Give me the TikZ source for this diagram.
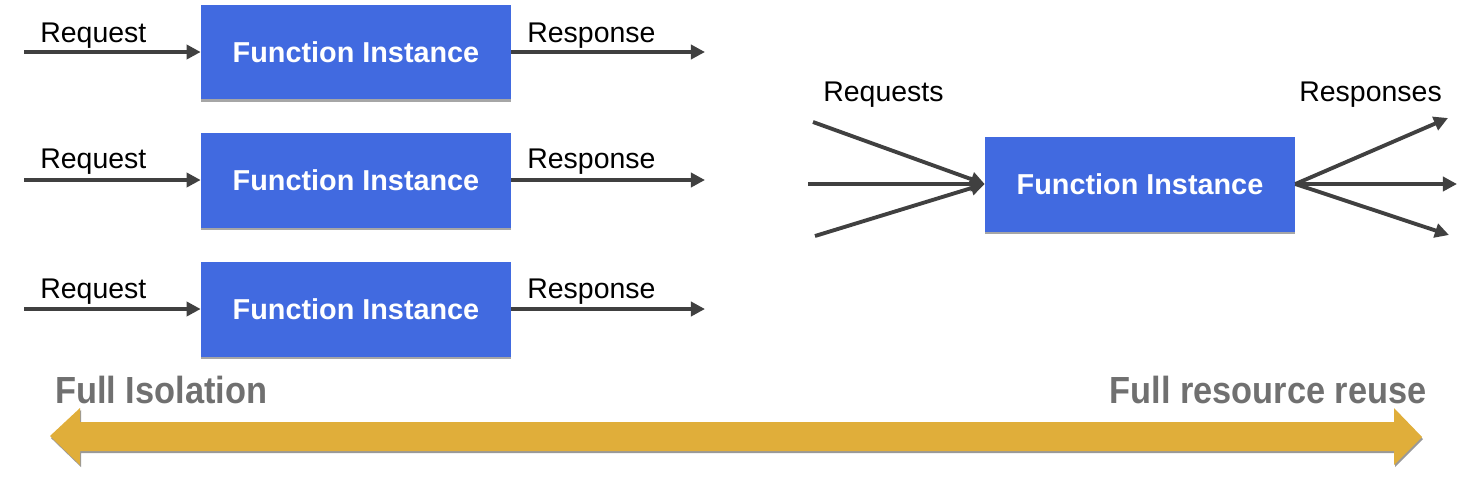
\documentclass[tikz,border=0pt]{standalone}
\usepackage{fontspec}
\setmainfont{Liberation Sans}
\usepackage{graphicx}
\usepackage{tikz}
\usetikzlibrary{arrows.meta,shadows,positioning}

\definecolor{fiblue}{RGB}{65,106,224}
\definecolor{arrowgray}{RGB}{64,64,64}
\definecolor{bargold}{RGB}{224,174,58}
\definecolor{textgray}{RGB}{112,112,112}

\tikzset{
  inst/.style={rectangle, fill=fiblue, minimum width=6.2cm, minimum height=1.9cm,
    inner sep=0pt, text=white, font=\fontsize{16.4pt}{19pt}\selectfont\bfseries,
    drop shadow={shadow xshift=0pt, shadow yshift=-1.2pt, fill=black!35, opacity=1}},
  lbl/.style={anchor=base west, inner sep=0pt, font=\fontsize{16.2pt}{19pt}\selectfont},
  flow/.style={draw=arrowgray, line width=2.2pt, -{Triangle[length=8pt,width=8pt]}},
  flows/.style={every edge/.style={flow}},
  endlbl/.style={inner sep=0pt, text=textgray, font=\fontsize{21.5pt}{25pt}\selectfont\bfseries}
}

\begin{document}
\begin{tikzpicture}[x=0.02cm, y=-0.02cm]
    \useasboundingbox (0,0) rectangle (1464,478);

    % one instance per request
    \node[inst] (fi_1) at (356,52)  {Function Instance};
    \node[inst] (fi_2) at (356,180) {Function Instance};
    \node[inst] (fi_3) at (356,309) {Function Instance};
    \coordinate (in_1) at (24,52);
    \coordinate (in_2) at (24,180);
    \coordinate (in_3) at (24,309);
    \coordinate (out_1) at (705,52);
    \coordinate (out_2) at (705,180);
    \coordinate (out_3) at (705,309);
    \node[lbl] (req_1) at (40,42)  {Request};
    \node[lbl] (req_2) at (40,168) {Request};
    \node[lbl] (req_3) at (40,298) {Request};
    \node[lbl] (res_1) at (527,42)  {Response};
    \node[lbl] (res_2) at (527,168) {Response};
    \node[lbl] (res_3) at (527,298) {Response};
    \path[flows]
    (in_1) edge (fi_1)
    (in_2) edge (fi_2)
    (in_3) edge (fi_3)
    (fi_1) edge (out_1)
    (fi_2) edge (out_2)
    (fi_3) edge (out_3);

    % one shared instance
    \node[inst] (fi_4) at (1140,184) {Function Instance};
    \coordinate (rq_a) at (813,122);
    \coordinate (rq_b) at (808,184);
    \coordinate (rq_c) at (815,236);
    \coordinate (rs_a) at (1448,118);
    \coordinate (rs_b) at (1457,184);
    \coordinate (rs_c) at (1449,235);
    \node[lbl] (reqs) at (823,101)  {Requests};
    \node[lbl] (ress) at (1299,101) {Responses};
    \path[flows]
    (rq_a) edge (fi_4.west)
    (rq_b) edge (fi_4.west)
    (rq_c) edge (fi_4.west)
    (fi_4.east) edge (rs_a)
    (fi_4.east) edge (rs_b)
    (fi_4.east) edge (rs_c);

    % scale
    \fill[bargold, drop shadow={shadow xshift=0.6pt, shadow yshift=-1.2pt, fill=black!40, opacity=1}]
      (50,436) -- (80,408) -- (80,422) -- (1394,422) -- (1394,408) -- (1422,437)
      -- (1394,465) -- (1394,451) -- (80,451) -- (80,465) -- cycle;
    \node[endlbl, anchor=base west] (iso)   at (55,403)   {\scalebox{0.91}[1]{Full Isolation}};
    \node[endlbl, anchor=base east] (reuse) at (1427,403) {\scalebox{0.91}[1]{Full resource reuse}};
  \end{tikzpicture}
\end{document}
